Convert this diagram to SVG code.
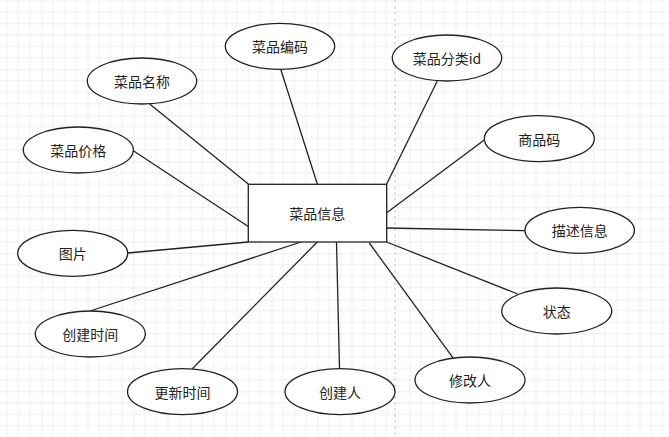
<svg xmlns="http://www.w3.org/2000/svg" width="669" height="437" viewBox="0 0 669 437">
<defs>
<pattern id="grid" patternUnits="userSpaceOnUse" x="41.5" y="23.3" width="46" height="46">
<path d="M11.5 0V46M23 0V46M34.5 0V46M0 11.5H46M0 23H46M0 34.5H46" stroke="#f0f0f0" stroke-width="1" fill="none"/>
<path d="M0 0V46M0 0H46" stroke="#dddddd" stroke-width="1" fill="none"/>
</pattern>
<style>
.attr ellipse{fill:#fff;stroke:#222;stroke-width:1.3}
.ent rect{fill:#fff;stroke:#222;stroke-width:1.3}
text{font-family:"Noto Sans CJK SC","Liberation Sans",sans-serif;font-size:14px;fill:#222;text-anchor:middle;dominant-baseline:central}
#connectors line{stroke:#222;stroke-width:1.3}
</style>
</defs>
<rect width="669" height="437" fill="#fff"/>
<rect width="669" height="437" fill="url(#grid)"/>
<line x1="395" y1="0" x2="395" y2="437" stroke="#c8c8c8" stroke-width="1" stroke-dasharray="3 3"/>
<g id="connectors">
<line x1="280.7" y1="69.3" x2="317.3" y2="184"/>
<line x1="149.7" y1="104" x2="248.3" y2="184"/>
<line x1="133.3" y1="150.7" x2="248.3" y2="226.5"/>
<line x1="437.3" y1="81" x2="386.7" y2="184"/>
<line x1="484.3" y1="140" x2="386.7" y2="212.7"/>
<line x1="386.7" y1="228" x2="525" y2="230.7"/>
<line x1="386.7" y1="242" x2="517.7" y2="294"/>
<line x1="369.3" y1="243" x2="454.3" y2="359.7"/>
<line x1="336.5" y1="242" x2="339.5" y2="368.7"/>
<line x1="317.3" y1="242" x2="192.3" y2="368.7"/>
<line x1="301" y1="242" x2="90" y2="311"/>
<line x1="127.7" y1="253" x2="248.3" y2="242"/>
</g>
<g id="entity" class="ent"><rect x="248.3" y="184.3" width="138.4" height="57.7"/><text x="317.3" y="212.7">菜品信息</text></g>
<g id="a1" class="attr"><ellipse cx="280" cy="46.3" rx="54.7" ry="23"/><text x="280" y="46.3">菜品编码</text></g>
<g id="a2" class="attr"><ellipse cx="142" cy="81" rx="54.7" ry="23"/><text x="142" y="81">菜品名称</text></g>
<g id="a3" class="attr"><ellipse cx="78.3" cy="150" rx="55" ry="23"/><text x="78.3" y="150">菜品价格</text></g>
<g id="a4" class="attr"><ellipse cx="447" cy="58" rx="54.7" ry="23"/><text x="447" y="58">菜品分类id</text></g>
<g id="a5" class="attr"><ellipse cx="539.3" cy="138.7" rx="55" ry="23"/><text x="539.3" y="138.7">商品码</text></g>
<g id="a6" class="attr"><ellipse cx="579.7" cy="230.3" rx="54.7" ry="23"/><text x="579.7" y="230.3">描述信息</text></g>
<g id="a7" class="attr"><ellipse cx="556.7" cy="311" rx="55" ry="23"/><text x="556.7" y="311">状态</text></g>
<g id="a8" class="attr"><ellipse cx="470" cy="380" rx="55" ry="23"/><text x="470" y="380">修改人</text></g>
<g id="a9" class="attr"><ellipse cx="340" cy="391.7" rx="55" ry="23"/><text x="340" y="391.7">创建人</text></g>
<g id="a10" class="attr"><ellipse cx="182.5" cy="391.7" rx="55" ry="23"/><text x="182.5" y="391.7">更新时间</text></g>
<g id="a11" class="attr"><ellipse cx="90.3" cy="334" rx="55" ry="23"/><text x="90.3" y="334">创建时间</text></g>
<g id="a12" class="attr"><ellipse cx="72.7" cy="253.3" rx="55" ry="23"/><text x="72.7" y="253.3">图片</text></g>
</svg>
